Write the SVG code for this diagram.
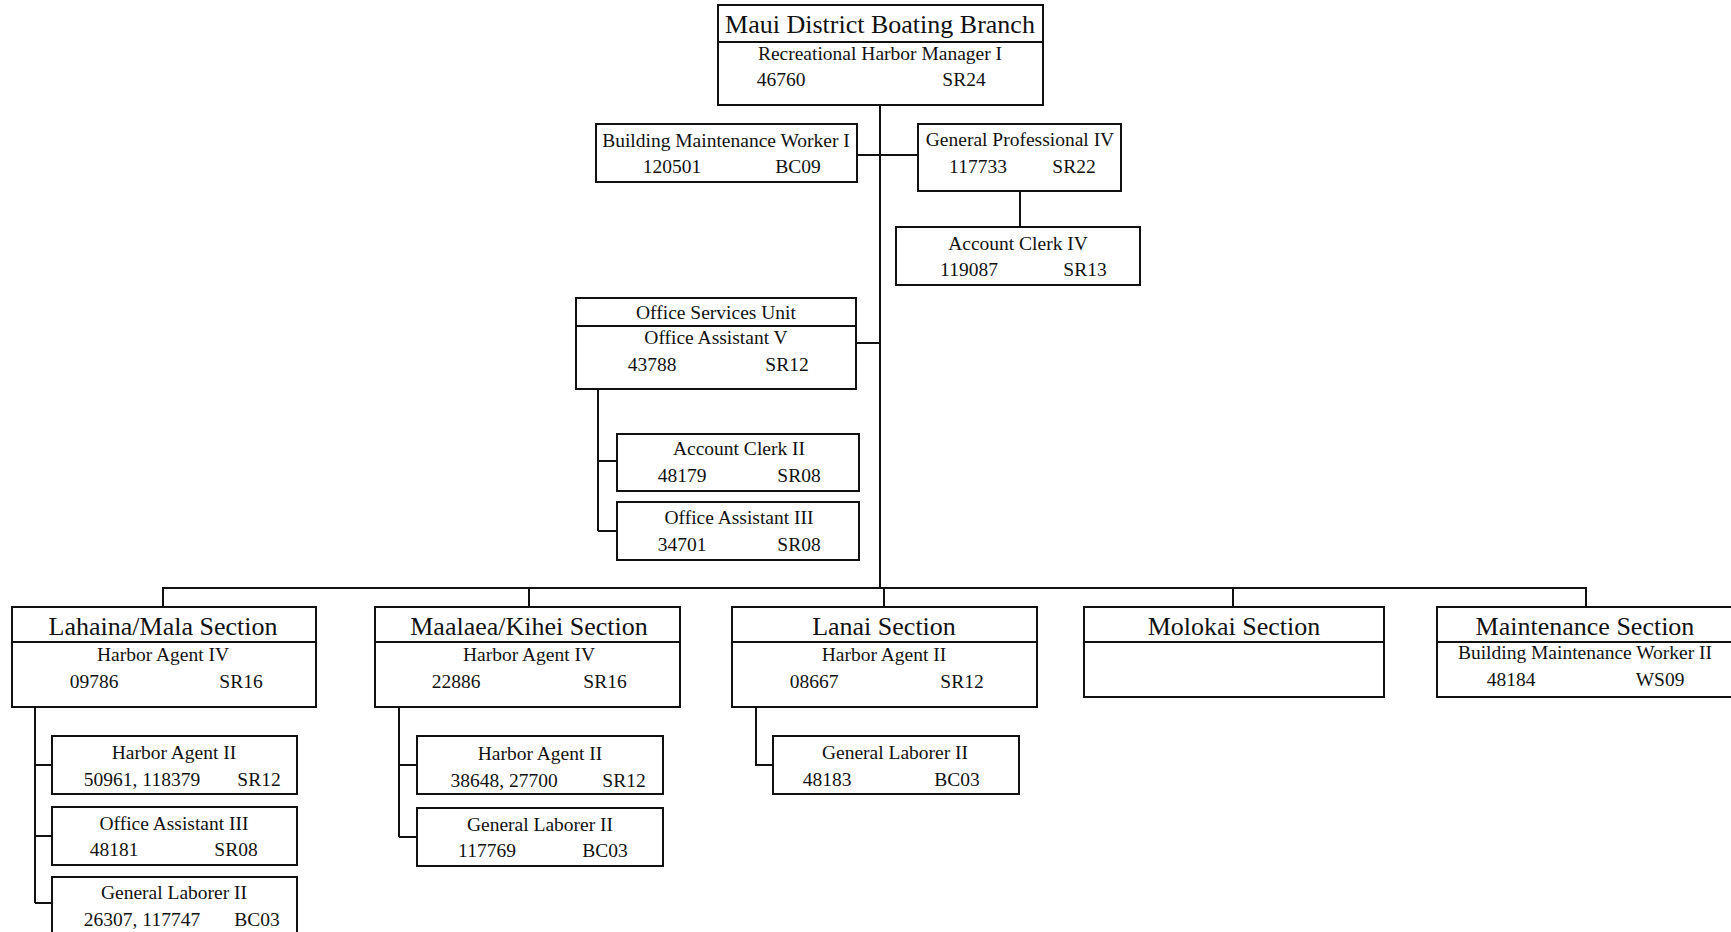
<svg xmlns="http://www.w3.org/2000/svg" width="1731" height="932" viewBox="0 0 1731 932">
<style>
rect{fill:#fff;stroke:#111;stroke-width:2}
.dv{stroke:#111;stroke-width:2}
text{font-family:"Liberation Serif","Times New Roman",serif;fill:#111;font-size:19.5px;text-anchor:middle}
.t{font-size:26px}
#connectors path{fill:none;stroke:#111;stroke-width:2}
</style>
<rect width="1731" height="932" style="stroke:none"/>
<g id="connectors">
<path d="M880 105V588M857 155H918M856 343H880M1020 191V227"/>
<path d="M598 389V531M598 461H617M598 531H617"/>
<path d="M163 607V588H1586V607M529 588V607M884 588V607M1233 588V607"/>
<path d="M35 707V903M35 765H52M35 836H52M35 903H52"/>
<path d="M399 707V837M399 765H417M399 837H417"/>
<path d="M756 707V765H773"/>
</g>
<g id="top"><rect x="718" y="5" width="325" height="100"/><line class="dv" x1="718" y1="42" x2="1043" y2="42"/>
<text class="t" x="880" y="33">Maui District Boating Branch</text><text x="880" y="60">Recreational Harbor Manager I</text><text x="781" y="86">46760</text><text x="964" y="86">SR24</text></g>
<g id="bmw1"><rect x="596" y="124" width="261" height="58"/><text x="726" y="147">Building Maintenance Worker I</text><text x="672" y="173">120501</text><text x="798" y="173">BC09</text></g>
<g id="gp4"><rect x="918" y="124" width="203" height="67"/><text x="1020" y="146">General Professional IV</text><text x="978" y="173">117733</text><text x="1074" y="173">SR22</text></g>
<g id="ac4"><rect x="896" y="227" width="244" height="58"/><text x="1018" y="250">Account Clerk IV</text><text x="969" y="276">119087</text><text x="1085" y="276">SR13</text></g>
<g id="osu"><rect x="576" y="298" width="280" height="91"/><line class="dv" x1="576" y1="326" x2="856" y2="326"/><text x="716" y="319">Office Services Unit</text><text x="716" y="344">Office Assistant V</text><text x="652" y="371">43788</text><text x="787" y="371">SR12</text></g>
<g id="ac2"><rect x="617" y="434" width="242" height="57"/><text x="739" y="455">Account Clerk II</text><text x="682" y="482">48179</text><text x="799" y="482">SR08</text></g>
<g id="oa3a"><rect x="617" y="502" width="242" height="58"/><text x="739" y="524">Office Assistant III</text><text x="682" y="551">34701</text><text x="799" y="551">SR08</text></g>
<g id="lahaina"><rect x="12" y="607" width="304" height="100"/><line class="dv" x1="12" y1="642" x2="316" y2="642"/><text class="t" x="163" y="635">Lahaina/Mala Section</text><text x="163" y="661">Harbor Agent IV</text><text x="94" y="688">09786</text><text x="241" y="688">SR16</text></g>
<g id="lah-ha2"><rect x="52" y="736" width="245" height="58"/><text x="174" y="759">Harbor Agent II</text><text x="142" y="786">50961, 118379</text><text x="259" y="786">SR12</text></g>
<g id="lah-oa3"><rect x="52" y="807" width="245" height="58"/><text x="174" y="830">Office Assistant III</text><text x="114" y="856">48181</text><text x="236" y="856">SR08</text></g>
<g id="lah-gl2"><rect x="52" y="877" width="245" height="70"/><text x="174" y="899">General Laborer II</text><text x="142" y="926">26307, 117747</text><text x="257" y="926">BC03</text></g>
<g id="maalaea"><rect x="375" y="607" width="305" height="100"/><line class="dv" x1="375" y1="642" x2="680" y2="642"/><text class="t" x="529" y="635">Maalaea/Kihei Section</text><text x="529" y="661">Harbor Agent IV</text><text x="456" y="688">22886</text><text x="605" y="688">SR16</text></g>
<g id="maa-ha2"><rect x="417" y="736" width="246" height="58"/><text x="540" y="760">Harbor Agent II</text><text x="504" y="787">38648, 27700</text><text x="624" y="787">SR12</text></g>
<g id="maa-gl2"><rect x="417" y="808" width="246" height="58"/><text x="540" y="831">General Laborer II</text><text x="487" y="857">117769</text><text x="605" y="857">BC03</text></g>
<g id="lanai"><rect x="732" y="607" width="305" height="100"/><line class="dv" x1="732" y1="642" x2="1037" y2="642"/><text class="t" x="884" y="635">Lanai Section</text><text x="884" y="661">Harbor Agent II</text><text x="814" y="688">08667</text><text x="962" y="688">SR12</text></g>
<g id="lan-gl2"><rect x="773" y="736" width="246" height="58"/><text x="895" y="759">General Laborer II</text><text x="827" y="786">48183</text><text x="957" y="786">BC03</text></g>
<g id="molokai"><rect x="1084" y="607" width="300" height="90"/><line class="dv" x1="1084" y1="642" x2="1384" y2="642"/><text class="t" x="1234" y="635">Molokai Section</text></g>
<g id="maint"><rect x="1437" y="607" width="300" height="90"/><line class="dv" x1="1437" y1="642" x2="1737" y2="642"/><text class="t" x="1585" y="635">Maintenance Section</text><text x="1585" y="659">Building Maintenance Worker II</text><text x="1511" y="686">48184</text><text x="1660" y="686">WS09</text></g>
</svg>
